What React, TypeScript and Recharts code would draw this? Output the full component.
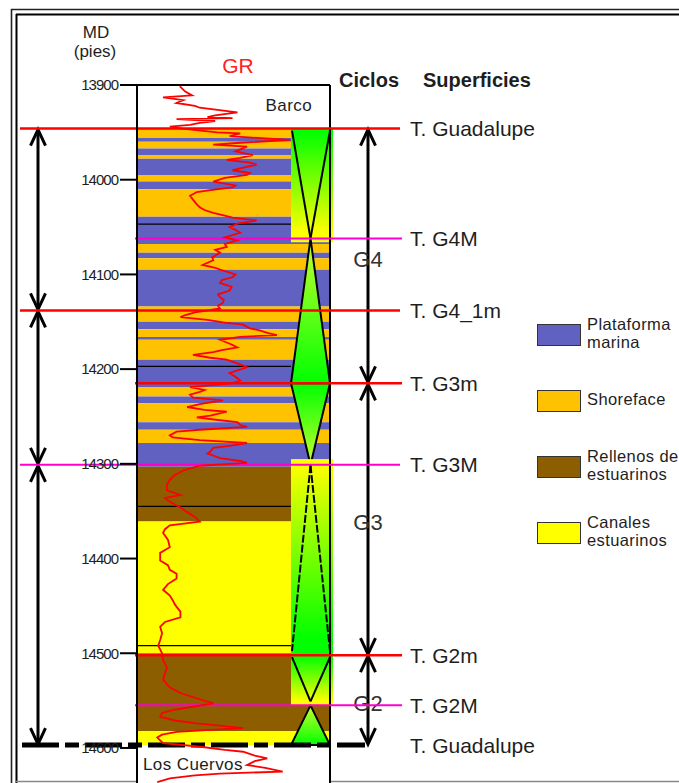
import React from "react";
import { ComposedChart, XAxis, YAxis, Scatter, ReferenceArea, ReferenceLine } from "recharts";

const FONT = '"Liberation Sans", Arial, Helvetica, sans-serif';
const INK = "#1e1e1e";

// profundidad (pies)
const depthTicks = [13900, 14000, 14100, 14200, 14300, 14400, 14500, 14600];

const facies = [
  { id: "PM", label: ["Plataforma", "marina"] },
  { id: "SH", label: ["Shoreface"] },
  { id: "RE", label: ["Rellenos de", "estuarinos"] },
  { id: "CA", label: ["Canales", "estuarinos"] },
];

const FACIES_COLOR: Record<string, string> = {
  PM: "#6161c2",
  SH: "#ffc200",
  RE: "#8c5e00",
  CA: "#ffff00",
};

// [tope, base, facies]
const lithology: [number, number, string][] = [
  [13946, 13956, "SH"], [13956, 13960, "PM"], [13960, 13967, "SH"], [13967, 13974, "PM"],
  [13974, 13978, "SH"], [13978, 13995, "PM"], [13995, 14002, "SH"], [14002, 14010, "PM"],
  [14010, 14039, "SH"], [14039, 14068, "PM"], [14068, 14077, "SH"], [14077, 14083, "PM"],
  [14083, 14095, "SH"], [14095, 14134, "PM"], [14134, 14150, "SH"], [14150, 14158, "PM"],
  [14158, 14166, "SH"], [14166, 14169, "PM"], [14169, 14190, "SH"], [14190, 14219, "PM"],
  [14219, 14229, "SH"], [14229, 14236, "PM"], [14236, 14256, "SH"], [14256, 14264, "PM"],
  [14264, 14278, "SH"], [14278, 14303, "PM"], [14303, 14361, "RE"], [14361, 14500, "CA"],
  [14500, 14582, "RE"], [14582, 14597, "CA"],
];

const bedLines = [14047, 14197, 14345, 14492];

const formations = [
  { name: "Barco", top: 13900, base: 13946 },
  { name: "Los Cuervos", top: 14597, base: 14637 },
];

const surfaces = [
  { name: "T. Guadalupe", depth: 13946, kind: "limite" },
  { name: "T. G4M", depth: 14062, kind: "max" },
  { name: "T. G4_1m", depth: 14138, kind: "limite" },
  { name: "T. G3m", depth: 14215, kind: "limite" },
  { name: "T. G3M", depth: 14301, kind: "max" },
  { name: "T. G2m", depth: 14502, kind: "limite" },
  { name: "T. G2M", depth: 14555, kind: "max" },
  { name: "T. Guadalupe", depth: 14597, kind: "base" },
];

const longCycles: [number, number][] = [
  [13946, 14138],
  [14138, 14301],
  [14301, 14597],
];

const cycles = [
  { name: "G4", top: 13946, base: 14215 },
  { name: "G3", top: 14215, base: 14502 },
  { name: "G2", top: 14502, base: 14597 },
];

// hemiciclos: apex = extremo angosto del triángulo
const hemicycles = [
  { top: 13946, base: 14066, apex: "base", mode: "band", inferred: false },
  { top: 14062, base: 14215, apex: "top", mode: "fill", inferred: false },
  { top: 14215, base: 14301, apex: "base", mode: "fill", inferred: false },
  { top: 14295, base: 14502, apex: "top", mode: "band", inferred: true },
  { top: 14502, base: 14555, apex: "base", mode: "band", inferred: false },
  { top: 14555, base: 14597, apex: "top", mode: "fill", inferred: false },
];

// GR: [profundidad, API]
const grLog: [number, number][] = [
  [13901, 45], [13902, 45], [13907, 50], [13911, 57], [13913, 27], [13916, 48], [13919, 41],
  [13922, 60], [13924, 65], [13929, 104], [13932, 81], [13934, 73], [13935, 99], [13936, 41],
  [13938, 81], [13940, 65], [13942, 55], [13944, 34], [13946, 47], [13950, 83], [13951, 107],
  [13954, 96], [13958, 159], [13961, 107], [13963, 79], [13965, 114], [13970, 102], [13974, 120],
  [13977, 107], [13979, 93], [13982, 117], [13984, 124], [13988, 107], [13990, 99], [13993, 117],
  [13995, 114], [13998, 91], [14002, 79], [14006, 102], [14008, 99], [14011, 76], [14013, 62],
  [14017, 55], [14021, 58], [14026, 62], [14029, 65], [14032, 70], [14035, 79], [14038, 91],
  [14040, 99], [14043, 124], [14046, 105], [14050, 96], [14053, 102], [14056, 107], [14061, 91],
  [14064, 104], [14068, 91], [14071, 93], [14074, 81], [14077, 86], [14082, 78], [14085, 79],
  [14090, 68], [14093, 81], [14095, 86], [14100, 102], [14103, 99], [14106, 88], [14109, 86],
  [14113, 98], [14117, 96], [14121, 84], [14124, 86], [14127, 90], [14130, 89], [14133, 84],
  [14136, 86], [14140, 60], [14143, 50], [14145, 45], [14148, 73], [14151, 91], [14153, 110],
  [14157, 117], [14159, 127], [14162, 136], [14164, 145], [14166, 107], [14169, 86], [14174, 98],
  [14177, 104], [14180, 88], [14182, 79], [14185, 58], [14188, 76], [14190, 93], [14195, 107],
  [14198, 114], [14201, 105], [14204, 96], [14208, 102], [14212, 107], [14215, 98], [14219, 55],
  [14222, 70], [14224, 65], [14227, 55], [14230, 58], [14233, 89], [14237, 65], [14240, 52],
  [14243, 70], [14245, 93], [14249, 76], [14251, 62], [14254, 86], [14256, 104], [14259, 107],
  [14261, 114], [14264, 65], [14266, 41], [14270, 34], [14272, 37], [14275, 65], [14278, 114],
  [14281, 96], [14283, 79], [14287, 76], [14289, 73], [14292, 81], [14294, 86], [14297, 107],
  [14299, 114], [14302, 65], [14307, 48], [14312, 39], [14317, 34], [14322, 31], [14328, 31],
  [14333, 45], [14336, 29], [14340, 34], [14346, 45], [14351, 52], [14356, 60], [14361, 65],
  [14365, 34], [14369, 29], [14373, 27], [14380, 32], [14388, 34], [14394, 24], [14402, 24],
  [14407, 32], [14412, 34], [14416, 41], [14421, 41], [14427, 32], [14433, 27], [14439, 34],
  [14444, 37], [14448, 39], [14451, 41], [14456, 45], [14462, 45], [14467, 29], [14472, 24],
  [14479, 26], [14486, 24], [14492, 22], [14500, 26], [14507, 27], [14515, 31], [14521, 29],
  [14528, 27], [14536, 34], [14542, 45], [14547, 60], [14553, 79], [14557, 55], [14560, 37],
  [14563, 26], [14567, 24], [14571, 39], [14574, 62], [14577, 91], [14579, 110], [14581, 76],
  [14583, 41], [14586, 26], [14589, 21], [14592, 24], [14595, 27], [14599, 68], [14602, 91],
  [14604, 110], [14608, 122], [14611, 135], [14614, 122], [14618, 114], [14621, 133],
  [14625, 151], [14627, 86], [14629, 60], [14632, 34], [14636, 21],
];

const grData = grLog.map(([depth, gr]) => ({ depth, gr }));
const longBounds = longCycles.flat();

const SURFACE_STYLE: Record<string, { stroke: string; width: number; dash?: string }> = {
  limite: { stroke: "#ff0000", width: 2.5 },
  max: { stroke: "#ff00cc", width: 2 },
  base: { stroke: "#000000", width: 5, dash: "37 6 14 6" },
};

const GREEN = "#00ff00";
const YELLOW = "#ffff00";
const LIME = "#c8ff30";

function surfaceShape(s: { name: string; depth: number; kind: string }) {
  return (p: any) => {
    const st = SURFACE_STYLE[s.kind];
    const full = longBounds.includes(s.depth);
    let left = full ? p.x1 - 117 : p.x1 - 2;
    let right = full ? p.x2 + 70 : p.x2 + 72;
    if (s.kind === "base") {
      left = p.x1 - 115;
      right = p.x2 + 35;
    }
    return (
      <g>
        <line x1={left} x2={right} y1={p.y1} y2={p.y2} stroke={st.stroke} strokeWidth={st.width} strokeDasharray={st.dash} />
        <text x={p.x2 + 80} y={p.y1} dy="0.36em" fontSize={21} fill={INK} fontFamily={FONT}>
          {s.name}
        </text>
      </g>
    );
  };
}

function arrowShape(side: "left" | "right", name?: string) {
  return (p: any) => {
    const ax = side === "left" ? p.x - 99 : p.x + p.width + 38;
    const y0 = p.y;
    const y1 = p.y + p.height;
    return (
      <g>
        <line x1={ax} x2={ax} y1={y0 + 2} y2={y1 - 2} stroke="#000" strokeWidth={3} />
        <path d={`M${ax - 7.5},${y0 + 17} L${ax},${y0 + 1} L${ax + 7.5},${y0 + 17}`} fill="none" stroke="#000" strokeWidth={3} />
        <path d={`M${ax - 7.5},${y1 - 17} L${ax},${y1 - 1} L${ax + 7.5},${y1 - 17}`} fill="none" stroke="#000" strokeWidth={3} />
        {name && (
          <text x={ax} y={(y0 + y1) / 2 + 3} dy="0.36em" textAnchor="middle" fontSize={22} fill="#333" fontFamily={FONT}>
            {name}
          </text>
        )}
      </g>
    );
  };
}

function hemiShape(h: (typeof hemicycles)[number], i: number) {
  return (p: any) => {
    const right = p.x + p.width;
    const L = right - 39;
    const cx = right - 19.5;
    const top = p.y;
    const bot = p.y + p.height;
    const id = `hc-grad-${i}`;
    const apexTop = h.apex === "top";
    if (h.mode === "band") {
      const stops = apexTop ? [YELLOW, GREEN] : [GREEN, YELLOW];
      const lines = apexTop
        ? [[cx, top + 6, L + 1, bot - 4], [cx, top + 6, right, bot - 4]]
        : [[L + 1, top + 2, cx, bot - 4], [right, top + 2, cx, bot - 4]];
      return (
        <g>
          <defs>
            <linearGradient id={id} x1="0" y1="0" x2="0" y2="1">
              <stop offset="0.02" stopColor={stops[0]} />
              <stop offset="0.92" stopColor={stops[1]} />
            </linearGradient>
          </defs>
          <rect x={L} y={top} width={42} height={bot - top} fill={`url(#${id})`} />
          {lines.map((l, k) => (
            <line key={k} x1={l[0]} y1={l[1]} x2={l[2]} y2={l[3]} stroke="#000" strokeWidth={2}
              strokeDasharray={h.inferred ? "8 2" : undefined} />
          ))}
        </g>
      );
    }
    const pts = apexTop
      ? `${cx},${top} ${right},${bot} ${L},${bot}`
      : `${L},${top} ${right},${top} ${cx},${bot}`;
    const stops = apexTop ? [LIME, GREEN] : [GREEN, LIME];
    return (
      <g>
        <defs>
          <linearGradient id={id} x1="0" y1="0" x2="0" y2="1">
            <stop offset="0" stopColor={stops[0]} />
            <stop offset="1" stopColor={stops[1]} />
          </linearGradient>
        </defs>
        <polygon points={pts} fill={`url(#${id})`} stroke="#000" strokeWidth={2} strokeLinejoin="round" />
      </g>
    );
  };
}

function formationShape(f: { name: string }) {
  return (p: any) => {
    const upper = f.name === "Barco";
    return (
      <g>
        <rect x={p.x} y={p.y} width={p.width} height={p.height} fill="#fff" />
        <text
          x={upper ? p.x + p.width - 18 : p.x + 6}
          y={p.y + p.height / 2 - (upper ? 2 : 0)}
          dy="0.36em"
          textAnchor={upper ? "end" : "start"}
          fontSize={17}
          fill={INK}
          fontFamily={FONT}
          letterSpacing={0.4}
        >
          {f.name}
        </text>
      </g>
    );
  };
}

const bedShape = (p: any) => (
  <line x1={p.x1} x2={p.x2 - 39} y1={p.y1} y2={p.y2} stroke="#000" strokeWidth={1.2} />
);

export default function App() {
  return (
    <div
      style={{
        position: "absolute",
        left: 0,
        top: 0,
        width: 679,
        height: 783,
        overflow: "hidden",
        background: "#fff",
        fontFamily: FONT,
      }}
    >
      {/* marco y encabezados */}
      <svg width={679} height={783} style={{ position: "absolute", left: 0, top: 0 }}>
        <line x1={11} x2={679} y1={9.5} y2={9.5} stroke="#222" strokeWidth={1.6} />
        <line x1={16} x2={679} y1={14.5} y2={14.5} stroke="#000" strokeWidth={2.2} />
        <line x1={11.5} x2={11.5} y1={9} y2={783} stroke="#222" strokeWidth={1.6} />
        <line x1={16.5} x2={16.5} y1={14} y2={783} stroke="#000" strokeWidth={2} />
        <line x1={16} x2={679} y1={781.5} y2={781.5} stroke="#888" strokeWidth={1.5} />
        <text x={96} y={32} dy="0.36em" textAnchor="middle" fontSize={17} fill={INK}>MD</text>
        <text x={95} y={51} dy="0.36em" textAnchor="middle" fontSize={17} fill={INK}>(pies)</text>
        <text x={238} y={65} dy="0.36em" textAnchor="middle" fontSize={21} fill="#ff2020">GR</text>
        <text x={339} y={80} dy="0.36em" fontSize={20} fontWeight="bold" fill={INK}>Ciclos</text>
        <text x={423} y={80} dy="0.36em" fontSize={20} fontWeight="bold" fill={INK}>Superficies</text>
      </svg>

      <div style={{ position: "absolute", left: 0, top: 0 }}>
        <ComposedChart width={679} height={783} margin={{ top: 85, right: 349, bottom: 0, left: 77 }}>
          <XAxis type="number" dataKey="gr" domain={[0, 200]} allowDataOverflow hide />
          <YAxis
            type="number"
            dataKey="depth"
            domain={[13900, 14637]}
            allowDataOverflow
            reversed
            ticks={depthTicks}
            interval={0}
            width={60}
            tickSize={17}
            tick={{ fontSize: 15, fill: INK, letterSpacing: -1 }}
            tickLine={{ stroke: "#000", strokeWidth: 2 }}
            axisLine={{ stroke: "#000", strokeWidth: 2 }}
          />

          {formations.map((f) => (
            <ReferenceArea key={f.name} y1={f.top} y2={f.base} shape={formationShape(f)} />
          ))}

          {lithology.map(([top, base, fa], i) => (
            <ReferenceArea key={`l${i}`} y1={top} y2={base} fill={FACIES_COLOR[fa]} fillOpacity={1} stroke="none" />
          ))}

          {bedLines.map((d) => (
            <ReferenceLine key={`b${d}`} y={d} shape={bedShape} />
          ))}

          <ReferenceLine y={13900} stroke="#000" strokeWidth={2} />
          <ReferenceLine x={200} stroke="#000" strokeWidth={2} />

          {hemicycles.map((h, i) => (
            <ReferenceArea key={`h${i}`} y1={h.top} y2={h.base} shape={hemiShape(h, i)} />
          ))}

          <Scatter
            data={grData}
            dataKey="gr"
            fill="#ff0000"
            line={{ stroke: "#ff0000", strokeWidth: 1.8 }}
            lineType="joint"
            shape={() => <g />}
            isAnimationActive={false}
          />

          {longCycles.map(([top, base], i) => (
            <ReferenceArea key={`lc${i}`} y1={top} y2={base} shape={arrowShape("left")} />
          ))}
          {cycles.map((c) => (
            <ReferenceArea key={c.name} y1={c.top} y2={c.base} shape={arrowShape("right", c.name)} />
          ))}

          {surfaces.map((s) => (
            <ReferenceLine key={`${s.name}${s.depth}`} y={s.depth} ifOverflow="visible" shape={surfaceShape(s)} />
          ))}
        </ComposedChart>
      </div>

      {/* leyenda de facies */}
      {facies.map((f, i) => (
        <div
          key={f.id}
          style={{
            position: "absolute",
            left: 537,
            top: 323 + i * 66,
            height: 23,
            display: "flex",
            alignItems: "center",
            whiteSpace: "nowrap",
          }}
        >
          <div
            style={{
              width: 42,
              height: 20,
              background: FACIES_COLOR[f.id],
              border: "1.5px solid #333",
              flex: "none",
            }}
          />
          <div style={{ marginLeft: 6, fontSize: 16.5, lineHeight: "18px", color: INK, letterSpacing: 0.4, marginTop: -3 }}>
            {f.label.map((t) => (
              <div key={t}>{t}</div>
            ))}
          </div>
        </div>
      ))}
    </div>
  );
}
